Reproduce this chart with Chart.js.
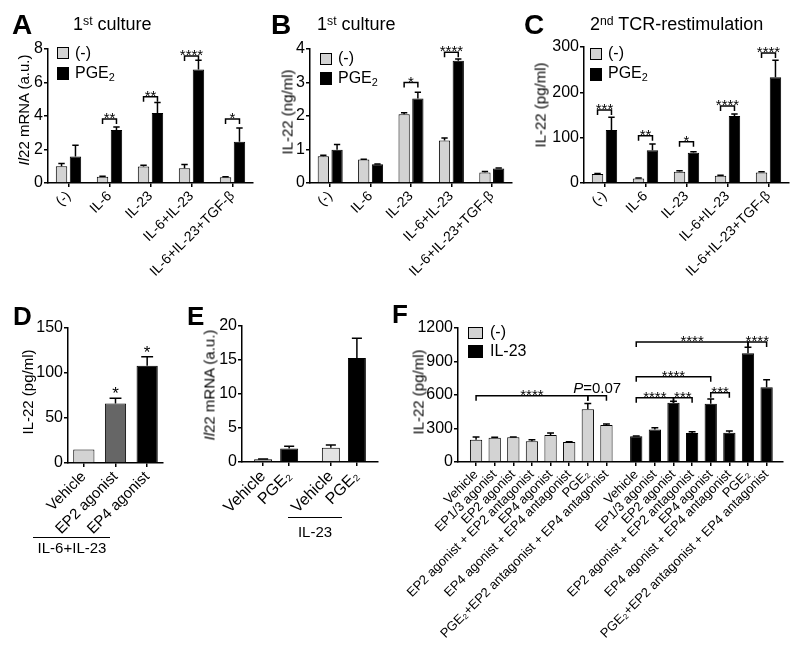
<!DOCTYPE html>
<html><head><meta charset="utf-8">
<script src="https://cdn.jsdelivr.net/npm/chart.js@4.4.1/dist/chart.umd.min.js"></script>
<style>
html,body{margin:0;padding:0;background:#fff;}
body{width:800px;height:651px;position:relative;overflow:hidden;font-family:"Liberation Sans",Arial,Helvetica,sans-serif;color:#000;}
canvas{position:absolute;left:0;top:0;}
.t{position:absolute;white-space:nowrap;line-height:1;}
.c{transform:translateX(-50%);}
.L{font-weight:bold;}
.yt{position:absolute;white-space:nowrap;line-height:1;font-size:15px;transform:translate(-50%,-50%) rotate(-90deg);}
.sq{position:absolute;box-sizing:border-box;border:1px solid #000;}
.ul{position:absolute;height:0;border-top:1.5px solid #000;}
sup{font-size:68%;vertical-align:0.45em;line-height:0;}
sub{font-size:68%;vertical-align:-0.25em;line-height:0;}
</style></head>
<body>
<canvas id="cA" width="800" height="651"></canvas>
<canvas id="cB" width="800" height="651"></canvas>
<canvas id="cC" width="800" height="651"></canvas>
<canvas id="cD" width="800" height="651"></canvas>
<canvas id="cE" width="800" height="651"></canvas>
<canvas id="cF" width="800" height="651"></canvas>

<!-- panel letters -->
<div class="t L" style="left:12px;top:11px;font-size:28px">A</div>
<div class="t L" style="left:271px;top:11px;font-size:28px">B</div>
<div class="t L" style="left:524px;top:11px;font-size:28px">C</div>
<div class="t L" style="left:13px;top:303px;font-size:26px">D</div>
<div class="t L" style="left:187px;top:303px;font-size:26px">E</div>
<div class="t L" style="left:392px;top:301px;font-size:26px">F</div>

<!-- titles -->
<div class="t" style="left:73px;top:15px;font-size:18px">1<sup>st</sup> culture</div>
<div class="t" style="left:317px;top:15px;font-size:18px">1<sup>st</sup> culture</div>
<div class="t" style="left:590px;top:15px;font-size:18px">2<sup>nd</sup> TCR-restimulation</div>

<!-- legends -->
<div class="sq" style="left:57px;top:47px;width:12px;height:12px;background:#d3d3d3"></div>
<div class="sq" style="left:57px;top:67px;width:12px;height:13px;background:#000"></div>
<div class="t" style="left:75px;top:45px;font-size:16px">(-)</div>
<div class="t" style="left:75px;top:65px;font-size:16px">PGE<sub>2</sub></div>

<div class="sq" style="left:320px;top:53px;width:12px;height:12px;background:#d3d3d3"></div>
<div class="sq" style="left:320px;top:72px;width:12px;height:13px;background:#000"></div>
<div class="t" style="left:338px;top:50px;font-size:16px">(-)</div>
<div class="t" style="left:338px;top:70px;font-size:16px">PGE<sub>2</sub></div>

<div class="sq" style="left:590px;top:48px;width:12px;height:12px;background:#d3d3d3"></div>
<div class="sq" style="left:590px;top:68px;width:12px;height:13px;background:#000"></div>
<div class="t" style="left:608px;top:45px;font-size:16px">(-)</div>
<div class="t" style="left:608px;top:65px;font-size:16px">PGE<sub>2</sub></div>

<div class="sq" style="left:468px;top:327px;width:15px;height:12px;background:#d3d3d3"></div>
<div class="sq" style="left:468px;top:345px;width:15px;height:13px;background:#000"></div>
<div class="t" style="left:490px;top:324px;font-size:16px">(-)</div>
<div class="t" style="left:490px;top:343px;font-size:16px">IL-23</div>

<!-- y titles -->
<div class="yt" style="left:23px;top:110px"><i>Il</i>22 mRNA (a.u.)</div>
<div class="yt" style="left:287px;top:112px">IL-22 (ng/ml)</div>
<div class="yt" style="left:540px;top:105px">IL-22 (pg/ml)</div>
<div class="yt" style="left:27px;top:392px">IL-22 (pg/ml)</div>
<div class="yt" style="left:209px;top:385px"><i>Il</i>22 mRNA (a.u.)</div>
<div class="yt" style="left:418px;top:392px">IL-22 (pg/ml)</div>

<!-- group underlines -->
<div class="ul" style="left:33px;top:537px;width:77px"></div>
<div class="t c" id="dGroupLbl" style="left:72px;top:540px;font-size:15px"></div>
<div class="ul" style="left:288px;top:517px;width:54px"></div>
<div class="t c" id="eGroupLbl" style="left:315px;top:524px;font-size:15px"></div>

<script>
// ---------------- data ----------------
const catsABC = ["(-)", "IL-6", "IL-23", "IL-6+IL-23", "IL-6+IL-23+TGF-β"];
const seriesABC = ["(-)", "PGE₂"];

const aCtrl    = [1.0, 0.37, 0.98, 0.88, 0.34];
const aCtrlErr = [0.16, 0.04, 0.08, 0.22, 0.03];
const aPge     = [1.58, 3.16, 4.18, 6.78, 2.47];
const aPgeErr  = [0.68, 0.19, 0.62, 0.55, 0.82];
const aSig     = [[1, 3.82, "**"], [2, 5.15, "**"], [3, 7.58, "****"], [4, 3.82, "*"]];

const bCtrl    = [0.8, 0.7, 2.05, 1.27, 0.31];
const bCtrlErr = [0.03, 0.01, 0.05, 0.07, 0.03];
const bPge     = [0.99, 0.56, 2.52, 3.65, 0.43];
const bPgeErr  = [0.16, 0.01, 0.19, 0.05, 0.02];
const bSig     = [[2, 3.0, "*"], [3, 3.9, "****"]];

const cCtrl    = [20, 10, 25, 16, 23];
const cCtrlErr = [1, 1, 2, 1, 2];
const cPge     = [117, 72, 67, 148, 233];
const cPgeErr  = [28, 14, 2, 4, 38];
const cSig     = [[0, 161, "***"], [1, 104, "**"], [2, 91, "*"], [3, 170, "****"], [4, 287, "****"]];

const dCats  = ["Vehicle", "EP2 agonist", "EP4 agonist"];
const dVals  = [15, 66, 108];
const dErr   = [0, 6, 10];
const dSig   = ["", "*", "*"];
const dGroup = "IL-6+IL-23";

const eCats  = ["Vehicle", "PGE₂", "Vehicle", "PGE₂"];
const eVals  = [0.4, 2.0, 2.1, 15.3];
const eErr   = [0.05, 0.3, 0.4, 2.9];
const eGroup = "IL-23";

const fCats = ["Vehicle", "EP1/3 agonist", "EP2 agonist", "EP2 agonist + EP2 antagonist",
               "EP4 agonist", "EP4 agonist + EP4 antagonist", "PGE₂", "PGE₂+EP2 antagonist + EP4 antagonist"];
const fSeries   = ["(-)", "IL-23"];
const fCtrl     = [200, 218, 221, 185, 242, 179, 472, 331];
const fCtrlErr  = [24, 3, 3, 15, 18, 3, 53, 9];
const fIl23     = [230, 290, 531, 260, 522, 263, 973, 669];
const fIl23Err  = [3, 17, 12, 12, 42, 15, 54, 68];
// [series, index] -> [series, index], level, text
const fSig = [
  [[0,0],[0,6], 594, "****"],
  [[0,6],[0,7], 594, "=0.07", "P"],
  [[1,0],[1,6], 1075, "****"],
  [[1,6],[1,7], 1075, "****"],
  [[1,0],[1,4], 764, "****"],
  [[1,0],[1,2], 576, "****"],
  [[1,2],[1,3], 576, "***"],
  [[1,4],[1,5], 620, "***"]
];

// ---------------- layout / style ----------------
const FONT = '"Liberation Sans", Arial, Helvetica, sans-serif';
const YW = 40, XH = 185, W = 800, H = 651;
const GRAY = '#d3d3d3';
const GAP = 0.6;
Chart.defaults.font.family = FONT;
Chart.defaults.color = '#000';

document.getElementById('dGroupLbl').textContent = dGroup;
document.getElementById('eGroupLbl').textContent = eGroup;

function pad(L, T, R, B) { return {left: L - YW, top: T, right: W - R, bottom: H - B - XH}; }
const gridOpts = {drawOnChartArea: false, drawTicks: true, tickLength: 4, color: '#000', lineWidth: 1.5, offset: false};
const borderOpts = {color: '#000', width: 1.5};
function yAxis(max, step) {
  return {min: 0, max: max, grid: gridOpts, border: borderOpts,
    ticks: {stepSize: step, font: {size: 16}, color: '#000', padding: 1, callback: v => String(v)},
    afterFit: s => { s.width = YW; }};
}
function xCat(fs) {
  return {type: 'category', offset: true, grid: gridOpts, border: borderOpts,
    ticks: {autoSkip: false, minRotation: 45, maxRotation: 45, font: {size: fs}, color: '#000', padding: 1},
    afterFit: s => { s.height = XH; }};
}
function xLin(min, max, pos, labels, fs) {
  return {type: 'linear', min: min, max: max, offset: false, grid: gridOpts, border: borderOpts,
    afterBuildTicks: s => { s.ticks = pos.map(v => ({value: v})); },
    ticks: {autoSkip: false, minRotation: 45, maxRotation: 45, font: {size: fs}, color: '#000', padding: 1,
      callback: (v, i) => labels[i]},
    afterFit: s => { s.height = XH; }};
}

function makeAnnot(brackets, stars) {
  return {
    id: 'annot',
    afterDatasetsDraw(chart) {
      const ctx = chart.ctx, ys = chart.scales.y;
      ctx.save();
      ctx.strokeStyle = '#000'; ctx.fillStyle = '#000'; ctx.lineWidth = 1.5;
      chart.data.datasets.forEach((ds, di) => {
        const meta = chart.getDatasetMeta(di);
        meta.data.forEach((bar, i) => {
          const raw = ds.data[i];
          const val = (typeof raw === 'object') ? raw.y : raw;
          const e = ds.errors ? ds.errors[i] : 0;
          const yt = ys.getPixelForValue(val + e);
          if (e) {
            const half = bar.width * 0.28;
            ctx.beginPath();
            ctx.moveTo(bar.x, bar.y); ctx.lineTo(bar.x, yt);
            ctx.moveTo(bar.x - half, yt); ctx.lineTo(bar.x + half, yt);
            ctx.stroke();
          }
          if (stars && stars[i]) {
            ctx.font = '17px ' + FONT; ctx.textAlign = 'center'; ctx.textBaseline = 'alphabetic';
            ctx.fillText(stars[i], bar.x, yt + 1);
          }
        });
      });
      (brackets || []).forEach(b => {
        const x1 = chart.getDatasetMeta(b[0][0]).data[b[0][1]].x;
        const x2 = chart.getDatasetMeta(b[1][0]).data[b[1][1]].x;
        const yy = ys.getPixelForValue(b[2]);
        ctx.beginPath();
        ctx.moveTo(x1, yy + 5); ctx.lineTo(x1, yy); ctx.lineTo(x2, yy); ctx.lineTo(x2, yy + 5);
        ctx.stroke();
        const cx = (x1 + x2) / 2;
        ctx.textBaseline = 'alphabetic';
        if (b[4]) {
          ctx.font = '15px ' + FONT;
          const wRest = ctx.measureText(b[3]).width;
          ctx.font = 'italic 15px ' + FONT;
          const wIt = ctx.measureText(b[4]).width;
          const sx = cx - (wRest + wIt) / 2;
          ctx.textAlign = 'left';
          ctx.fillText(b[4], sx, yy - 3);
          ctx.font = '15px ' + FONT;
          ctx.fillText(b[3], sx + wIt, yy - 3);
        } else {
          ctx.font = '15px ' + FONT; ctx.textAlign = 'center';
          ctx.fillText(b[3], cx, yy + 4);
        }
      });
      ctx.restore();
    }
  };
}

function baseOpts(padding, x, y) {
  return {responsive: false, animation: false, devicePixelRatio: 1,
    layout: {padding: padding},
    plugins: {legend: {display: false}, tooltip: {enabled: false}, title: {display: false}},
    scales: {x: x, y: y}};
}

function groupedChart(id, ctrl, ctrlErr, pge, pgeErr, sig, padding, yMax, yStep) {
  new Chart(document.getElementById(id), {
    type: 'bar',
    data: {labels: catsABC, datasets: [
      {label: seriesABC[0], data: ctrl, errors: ctrlErr, backgroundColor: GRAY, borderColor: '#000', borderWidth: 1,
       categoryPercentage: 0.68, barPercentage: 0.82},
      {label: seriesABC[1], data: pge, errors: pgeErr, backgroundColor: '#000', borderColor: '#000', borderWidth: 1,
       categoryPercentage: 0.68, barPercentage: 0.82}
    ]},
    options: baseOpts(padding, xCat(14), yAxis(yMax, yStep)),
    plugins: [makeAnnot(sig.map(s => [[0, s[0]], [1, s[0]], s[1], s[2]]))]
  });
}

groupedChart('cA', aCtrl, aCtrlErr, aPge, aPgeErr, aSig, pad(48, 49, 253, 183), 8, 2);
groupedChart('cB', bCtrl, bCtrlErr, bPge, bPgeErr, bSig, pad(310, 49, 512, 183), 4, 1);
groupedChart('cC', cCtrl, cCtrlErr, cPge, cPgeErr, cSig, pad(584, 47, 789, 183), 300, 100);

// D
new Chart(document.getElementById('cD'), {
  type: 'bar',
  data: {labels: dCats, datasets: [{label: dGroup, data: dVals, errors: dErr,
    backgroundColor: [GRAY, '#666666', '#000000'], borderColor: '#000', borderWidth: 1,
    categoryPercentage: 1, barPercentage: 0.67}]},
  options: baseOpts(pad(68, 328, 163, 463), xCat(15), yAxis(150, 50)),
  plugins: [makeAnnot([], dSig)]
});

// E
const ePos = eCats.map((_, i) => i + (i >= 2 ? GAP : 0));
new Chart(document.getElementById('cE'), {
  type: 'bar',
  data: {datasets: [{label: eGroup, data: eVals.map((v, i) => ({x: ePos[i], y: v})), errors: eErr,
    backgroundColor: ['#9a9a9a', '#000000', '#e3e3e3', '#000000'], borderColor: '#000', borderWidth: 1,
    grouped: false, categoryPercentage: 1, barPercentage: 0.69}]},
  options: baseOpts(pad(242, 326, 378, 462), xLin(-0.81, 4.41, ePos, eCats, 16), yAxis(20, 5)),
  plugins: [makeAnnot([])]
});

// F
const fPosCtrl = fCats.map((_, i) => i);
const fPosIl = fCats.map((_, i) => i + fCats.length + GAP);
new Chart(document.getElementById('cF'), {
  type: 'bar',
  data: {datasets: [
    {label: fSeries[0], data: fCtrl.map((v, i) => ({x: fPosCtrl[i], y: v})), errors: fCtrlErr,
     backgroundColor: GRAY, borderColor: '#000', borderWidth: 1, grouped: false, categoryPercentage: 1, barPercentage: 0.66},
    {label: fSeries[1], data: fIl23.map((v, i) => ({x: fPosIl[i], y: v})), errors: fIl23Err,
     backgroundColor: '#000', borderColor: '#000', borderWidth: 1, grouped: false, categoryPercentage: 1, barPercentage: 0.66}
  ]},
  options: baseOpts(pad(458, 328, 783, 462),
    xLin(-0.97, 16.48, fPosCtrl.concat(fPosIl), fCats.concat(fCats), 13), yAxis(1200, 300)),
  plugins: [makeAnnot(fSig)]
});
</script>
</body></html>
